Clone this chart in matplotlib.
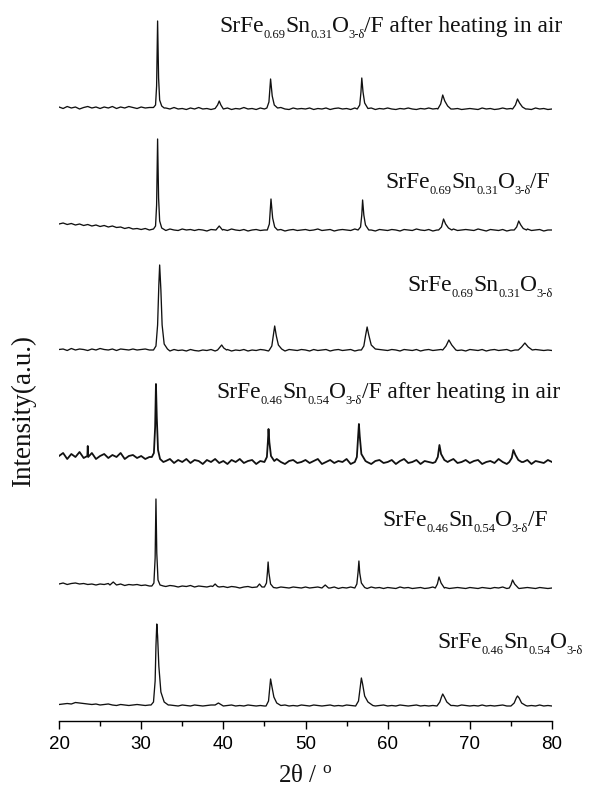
import numpy as np
import matplotlib
matplotlib.use("Agg")
import matplotlib.pyplot as plt

plt.rcParams['font.family'] = ['Liberation Serif', 'DejaVu Serif']
plt.rcParams['mathtext.fontset'] = 'custom'
plt.rcParams['mathtext.rm'] = 'Liberation Serif'
plt.rcParams['mathtext.it'] = 'Liberation Serif:italic'

# ---------------- data (intensity in arbitrary units) ----------------
# label pieces: (text, 0 = normal, 1 = subscript)
label_1 = [("SrFe", 0), ("0.69", 1), ("Sn", 0), ("0.31", 1), ("O", 0), ("3-δ", 1), ("/F after heating in air", 0)]
label_2 = [("SrFe", 0), ("0.69", 1), ("Sn", 0), ("0.31", 1), ("O", 0), ("3-δ", 1), ("/F", 0)]
label_3 = [("SrFe", 0), ("0.69", 1), ("Sn", 0), ("0.31", 1), ("O", 0), ("3-δ", 1)]
label_4 = [("SrFe", 0), ("0.46", 1), ("Sn", 0), ("0.54", 1), ("O", 0), ("3-δ", 1), ("/F after heating in air", 0)]
label_5 = [("SrFe", 0), ("0.46", 1), ("Sn", 0), ("0.54", 1), ("O", 0), ("3-δ", 1), ("/F", 0)]
label_6 = [("SrFe", 0), ("0.46", 1), ("Sn", 0), ("0.54", 1), ("O", 0), ("3-δ", 1)]

# vertical offsets of the stacked patterns
offsets = [613, 491, 371, 259, 133, 15]

# background readings at 0.5 degree steps from 20 to 80 (121 values each)
background_1 = [1, -0.5, 1.5, 0, 1, -1, 0.5, 1.5, 0, 1, -0.5, 1, 0, 1.5, -0.5, 1, 0, 1.5, 0.5, -0.5,
                1, 0, 0.5, -1, 0, -1.5, 0, -1, 0.5, -1, -0.5, -1.5, 0, -1, 0.5, -1, -0.5, -1.5, 0, 0,
                -1, 0, -1.5, -0.5, -1, 0.5, -1, -0.5, -1.5, 0, -1, -0.5, 0, -1, 0.5, -1, -1.5, 0, -1, -0.5,
                -1, 0, -1.5, -0.5, -1, 0, -1.5, -0.5, 0, -1, -0.5, -1.5, 0, -1, -0.5, -1, 0, -1.5, -0.5, -1,
                0, -1, -1.5, -0.5, -1, 0, -1, -1.5, -0.5, -1, 0, -1, -0.5, -1.5, -1, 0, -1, -0.5, -1.5, -1,
                -0.5, -1, -1.5, 0, -1, -0.5, -1.5, -1, 0, -1, -0.5, -1.5, -1, -0.5, -1, -1.5, 0, -1, -0.5, -1.5,
                -1]
background_2 = [6, 7, 5.5, 6.5, 5, 6, 4.5, 5.5, 4, 5, 3.5, 4.5, 3, 4, 2.5, 3, 1.5, 2.5, 1, 1.5,
                0.5, 1.5, 0, 1, 0, 0.5, -0.5, 1, 0, -0.5, 1, 0, 0.5, -0.5, 0.5, 0, -1, 0.5, 0, -0.5,
                0.5, -0.5, 1, 0, -0.5, 0.5, -1, 0, 0.5, -0.5, 0, 1, -0.5, 0, 0.5, -1, 0, 0.5, -0.5, 0,
                0.5, -0.5, 0, 1, -0.5, 0, 0.5, -1, 0, 0.5, 0, -0.5, 1, 0, -0.5, 0.5, 0, -1, 0.5, 0,
                -0.5, 0.5, 0, -1, 0.5, 0, -0.5, 1, 0, -0.5, 0.5, -1, 0, 0.5, -0.5, 0, 1, -0.5, 0, 0.5,
                0, -0.5, 1, 0, -1, 0.5, 0, -0.5, 0.5, -1, 0, 0.5, -0.5, 0, 1, -0.5, 0, 0.5, -1, 0,
                0]
background_3 = [0.5, 1, -0.5, 1.5, 0, 1, 0.5, -0.5, 1, 0, 1.5, 0.5, 0, 1, -0.5, 1, 0.5, 0, 1, 0,
                0.5, 1, 0, 0.5, -0.5, -1, 0, -1, 0.5, -0.5, 0, -1, 0.5, -0.5, -1, 0, -0.5, 0.5, -1, 0,
                -0.5, 0.5, -1, 0, -0.5, 0.5, -1, 0, -0.5, 0.5, 0, -1, 0.5, -0.5, 0, -1, 0.5, 0, -0.5, 0.5,
                0, -1, 0.5, -0.5, 0, 0.5, -1, 0, 0.5, -0.5, 0, 0.5, -1, 0, -0.5, 0.5, 0, -1, 0.5, 0,
                -0.5, 0.5, 0, -1, 0.5, 0, -0.5, 0.5, -1, 0, 0.5, -0.5, 0, 0.5, -1, 0, 0.5, -0.5, 0, -1,
                0.5, 0, -0.5, 0.5, -1, 0, 0.5, -0.5, 0, 0.5, -1, 0, -0.5, 0.5, 0, -1, 0.5, 0, -0.5, 0,
                -0.5]
background_4 = [6, 9, 3, 8, 5, 10, 4, 7, 9, 3, 6, 8, 4, 7, 5, 9, 3, 6, 7, 4,
                6, 3, 5, 4, 2, 4, 1, 3, -1, 2, 0, 3, -1, 2, 1, -2, 2, 0, 3, -1,
                1, -2, 2, 0, 3, -1, 1, 2, -2, 1, 0, 2, -1, 3, 0, -2, 1, 2, -1, 0,
                2, -1, 1, 3, -2, 0, 2, -1, 1, 0, 3, -2, 1, -1, 2, 0, -2, 1, 2, -1,
                0, 2, -2, 1, 3, -1, 0, 2, -2, 1, 0, -1, 2, 0, -2, 1, 3, -1, 0, 2,
                -1, 1, 2, -2, 0, 1, -1, 3, 0, -2, 1, 2, -1, 0, 2, -2, 1, 0, -1, 2,
                0]
background_5 = [4, 5, 3.5, 4.5, 5, 4, 4.5, 3.5, 4, 3, 4, 3.5, 4.5, 3, 3.5, 4, 2.5, 3.5, 3, 3.5,
                2.5, 3, 2, 3, 2, 2.5, 1.5, 2.5, 2, 1, 2, 1.5, 2.5, 1, 2, 1.5, 1, 2, 1.5, 1,
                1.5, 0.5, 1.5, 1, 0, 1, 1.5, 0.5, 1, 0, 1, 0.5, 1.5, 0, 1, 0.5, 0, 1, 0.5, 0,
                1, 0, 0.5, 1, -0.5, 0.5, 0, 1, -0.5, 0.5, 0, 1, -0.5, 0.5, 0, -0.5, 1, 0, 0.5, -0.5,
                0.5, 0, -0.5, 1, 0, 0.5, -0.5, 0, 0.5, -0.5, 0, 1, -0.5, 0, 0.5, -0.5, 0, 0.5, 0, -0.5,
                0.5, 0, -0.5, 0.5, 0, -0.5, 0.5, 0, 1, -0.5, 0, 0.5, -0.5, 0, 0.5, 0, -0.5, 0.5, 0, -0.5,
                0]
background_6 = [1.5, 2, 2.5, 2, 3.5, 3, 2.5, 2, 1.5, 2, 1, 1.5, 2, 1, 0.5, 1.5, 1, 0.5, 1, 1.5,
                1, 0.5, 1, 1.5, 1, 0.5, 0, 1, 0.5, 0, 1, 0.5, 0, 1, 0.5, 0, 0.5, 1, 0, 0.5,
                0, 0.5, 1, 0, 0.5, 0, 1, 0.5, 0, 0.5, 0, 1, 0.5, 0, 0.5, 1, 0, 0.5, 0, 1,
                0.5, 0, 1, 0.5, 0, 0.5, 1, 0, 0.5, 0, 1, 0.5, 0, 0.5, 0, 1, 0.5, 0, 0.5, 1,
                0, 0.5, 0, 1, 0.5, 0, 0.5, 1, 0, 0.5, 0, 0.5, 1, 0, 0.5, 0, 0.5, 0, 1, 0.5,
                0, 0.5, 0, 1, 0, 0.5, 0, 0.5, 1, 0, 0.5, 0, 1, 0.5, 0, 0.5, 0, 1, 0, 0.5,
                0]

# reflections: 2theta readings and intensities across each peak
peaks_x_1 = [[31.5, 31.75, 31.88, 32.0, 32.12, 32.25, 32.5, 32.8],
             [39.0, 39.3, 39.5, 39.7, 40.0],
             [45.3, 45.55, 45.75, 45.95, 46.2, 46.6],
             [56.3, 56.6, 56.75, 56.85, 57.0, 57.2, 57.6],
             [66.1, 66.45, 66.7, 66.95, 67.3, 67.7],
             [75.2, 75.55, 75.8, 76.05, 76.4, 76.8]]
peaks_y_1 = [[0.5, 3, 22, 87, 30, 8, 2, 0],
             [-0.5, 3, 7, 3, -1],
             [0, 6, 29, 12, 3, 0],
             [-1, 3, 16, 30, 16, 5, -0.5],
             [-1, 4, 13, 7, 2, -1],
             [-1, 3, 9, 5, 1, -1]]

peaks_x_2 = [[31.5, 31.75, 31.88, 32.0, 32.12, 32.25, 32.5, 32.8],
             [39.1, 39.5, 39.9],
             [45.35, 45.6, 45.8, 46.0, 46.25, 46.6],
             [56.4, 56.7, 56.85, 56.95, 57.1, 57.3, 57.7],
             [66.2, 66.55, 66.8, 67.05, 67.4, 67.8],
             [75.4, 75.7, 75.95, 76.2, 76.5, 76.9]]
peaks_y_2 = [[1, 4, 25, 91, 32, 9, 2, 0.5],
             [0, 4, 0],
             [0, 6, 31, 12, 3, 0],
             [0, 3, 15, 30, 15, 5, 0],
             [0, 3, 11, 6, 2, 0],
             [0, 3, 9, 5, 1.5, 0]]

peaks_x_3 = [[31.5, 31.8, 32.0, 32.15, 32.25, 32.4, 32.55, 32.8, 33.2],
             [39.3, 39.6, 39.8, 40.05, 40.4],
             [45.6, 45.9, 46.1, 46.25, 46.45, 46.7, 47.1],
             [56.8, 57.1, 57.3, 57.5, 57.7, 58.0, 58.5],
             [66.7, 67.1, 67.45, 67.8, 68.3],
             [75.9, 76.3, 76.7, 77.1, 77.6]]
peaks_y_3 = [[0, 4, 25, 65, 85, 60, 25, 6, 1],
             [0, 3, 5, 2, 0],
             [0, 4, 15, 24, 14, 5, 1],
             [0, 4, 14, 23, 15, 5, 1],
             [0, 4, 10, 5, 0],
             [0, 3, 7, 3, 0]]

peaks_x_4 = [[23.45, 23.5, 23.55],
             [31.3, 31.55, 31.7, 31.8, 31.9, 32.05, 32.3, 32.7],
             [45.0, 45.3, 45.42, 45.5, 45.6, 45.8, 46.2],
             [56.0, 56.25, 56.4, 56.5, 56.6, 56.8, 57.3],
             [65.8, 66.1, 66.3, 66.5, 66.9, 67.3],
             [74.8, 75.1, 75.3, 75.55, 75.9, 76.3]]
peaks_y_4 = [[6, 16, 5],
             [5, 9, 35, 78, 45, 12, 3, 0],
             [0, 5, 20, 33, 20, 6, 1],
             [0, 5, 25, 38, 26, 8, 1],
             [0, 5, 17, 8, 2, 0],
             [0, 4, 12, 7, 2, 0]]

peaks_x_5 = [[26.2, 26.6, 27.0],
             [31.3, 31.55, 31.7, 31.8, 31.9, 32.05, 32.3, 32.7],
             [38.7, 39.0, 39.3],
             [44.1, 44.4, 44.7],
             [45.0, 45.25, 45.37, 45.45, 45.55, 45.75, 46.1],
             [52.0, 52.4, 52.8],
             [56.0, 56.25, 56.4, 56.5, 56.6, 56.8, 57.2],
             [65.8, 66.05, 66.25, 66.5, 66.9],
             [74.8, 75.0, 75.2, 75.45, 75.9]]
peaks_y_5 = [[3, 6, 3],
             [2, 5, 30, 89, 35, 8, 3, 2],
             [1.5, 4, 1.5],
             [1, 4, 1],
             [1, 5, 16, 26, 15, 4, 0.5],
             [0, 3, 0],
             [0, 4, 16, 27, 15, 5, 0.5],
             [0, 4, 11, 5, 0],
             [0, 3, 8, 4, 0]]

peaks_x_6 = [[31.2, 31.5, 31.7, 31.8, 31.9, 32.0, 32.15, 32.4, 32.8, 33.3],
             [39.0, 39.4, 39.8],
             [45.2, 45.5, 45.65, 45.75, 45.9, 46.15, 46.5, 47.0],
             [56.1, 56.45, 56.65, 56.8, 56.95, 57.2, 57.6, 58.2],
             [66.0, 66.35, 66.55, 66.7, 66.9, 67.2, 67.7],
             [75.0, 75.4, 75.65, 75.8, 76.0, 76.3, 76.8]]
peaks_y_6 = [[1, 4, 25, 60, 82, 70, 40, 14, 4, 1],
             [1, 3, 1],
             [0, 5, 18, 27, 20, 9, 3, 0.5],
             [0, 5, 18, 28, 22, 10, 4, 0.5],
             [0, 4, 9, 12, 9, 4, 0.5],
             [0, 3, 8, 10, 8, 3, 0.5]]

labels = [label_1, label_2, label_3, label_4, label_5, label_6]
backgrounds = [background_1, background_2, background_3, background_4, background_5, background_6]
peaks_x = [peaks_x_1, peaks_x_2, peaks_x_3, peaks_x_4, peaks_x_5, peaks_x_6]
peaks_y = [peaks_y_1, peaks_y_2, peaks_y_3, peaks_y_4, peaks_y_5, peaks_y_6]

xticks = [20, 30, 40, 50, 60, 70, 80]

# ---------------- figure ----------------
W, H = 589, 791
fig = plt.figure(figsize=(W / 100, H / 100), dpi=100)
ax_left, ax_right, ax_bottom = 59, 552, 721
ax = fig.add_axes([ax_left / W, (H - ax_bottom) / H, (ax_right - ax_left) / W, ax_bottom / H])

scan = np.linspace(20, 80, 121)


def build(bg, px, py):
    keep = np.ones(len(scan), bool)
    for seg in px:
        keep &= ~((scan >= seg[0]) & (scan <= seg[-1]))
    xs = list(scan[keep])
    ys = list(np.asarray(bg, float)[keep])
    for sx, sy in zip(px, py):
        xs += sx
        ys += sy
    order = np.argsort(xs, kind='stable')
    return np.array(xs)[order], np.array(ys)[order]


for i in range(6):
    x, y = build(backgrounds[i], peaks_x[i], peaks_y[i])
    lw = 1.3 if i == 3 else 0.95
    ax.plot(x, y + offsets[i], color='#111111', lw=lw)

ax.set_xlim(20, 80)
ax.set_ylim(0, ax_bottom)
for s in ['left', 'right', 'top']:
    ax.spines[s].set_visible(False)
ax.spines['bottom'].set_linewidth(1.0)
ax.set_yticks([])
ax.set_xticks(xticks)
ax.set_xticks([25, 35, 45, 55, 65, 75], minor=True)
ax.tick_params(axis='x', which='major', direction='out', length=6, width=1.0, pad=5,
               labelsize=13.5)
ax.tick_params(axis='x', which='minor', direction='out', length=3.5, width=1.0)
for lab in ax.get_xticklabels():
    lab.set_family('Liberation Sans')
ax.patch.set_visible(False)

# trace labels, drawn piece by piece (normal text + small subscripts)
renderer = fig.canvas.get_renderer()
MAIN_SIZE, SUB_SIZE, SUB_DROP = 16.9, 9.0, 6.0
label_pos = [(219, 32), (385, 188), (407, 291), (216, 398), (382, 526), (437, 648)]
for parts, (px_, py_) in zip(labels, label_pos):
    xcur = px_
    for s, kind in parts:
        size = SUB_SIZE if kind else MAIN_SIZE
        ybase = py_ + (SUB_DROP if kind else 0)
        t = fig.text(xcur / W, 1 - ybase / H, s, fontsize=size, ha='left', va='baseline',
                     color='#111111')
        xcur += t.get_window_extent(renderer).width + (-0.5 if kind else 0)

fig.text(23 / W, 1 - 411 / H, 'Intensity(a.u.)', rotation=90, fontsize=19.5,
         ha='center', va='center', color='#111111')
fig.text(305 / W, 1 - 776 / H, r'2θ / $^{\mathrm{o}}$', fontsize=18,
         ha='center', va='center', color='#111111')

fig.savefig('out.png', dpi=100)
